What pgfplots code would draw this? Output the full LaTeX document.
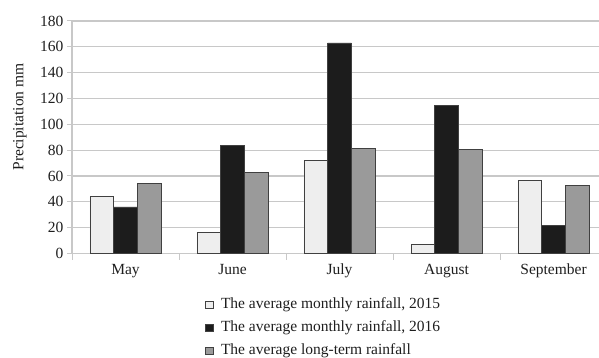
\documentclass[border=0pt]{standalone}
\usepackage{fontspec}
\setmainfont{Liberation Serif}
\usepackage{pgfplots}
\pgfplotsset{compat=1.18}
\definecolor{cA}{HTML}{EEEEEE}
\definecolor{cB}{HTML}{1C1C1C}
\definecolor{cC}{HTML}{9A9A9A}
\definecolor{edge}{HTML}{404040}
\definecolor{gridc}{HTML}{C8C8C8}
\definecolor{txt}{HTML}{1E1E1E}
\begin{document}
\begin{tikzpicture}[font=\fontsize{15.5bp}{18bp}\selectfont]
\path[use as bounding box] (0,0) rectangle (599bp,358bp);
\begin{axis}[
  at={(72bp,104.5bp)}, anchor=south west,
  scale only axis, width=527bp, height=232.5bp,
  ybar=0pt, bar width=23.7bp,
  xmin=-0.5, xmax=4.425, ymin=0, ymax=180,
  axis lines=left, axis line style={-, draw=gridc, line width=1.2bp},
  ytick={0,20,...,180},
  xtick={0,1,2,3,4},
  xticklabels={May,June,July,August,September},
  minor xtick={-0.5,0.5,1.5,2.5,3.5},
  tick align=outside,
  major tick length=5bp, minor tick length=6bp,
  tick style={draw=gridc, line width=1bp},
  major x tick style={draw=none},
  ymajorgrids, major grid style={draw=gridc, line width=1.2bp},
  /pgf/number format/assume math mode=true,
  ticklabel style={text=txt},
  xticklabel style={yshift=-2bp},
  ylabel={Precipitation mm},
  ylabel style={at={(axis description cs:-0.0987,0.587)}, anchor=center, text=txt},
  legend style={at={(axis description cs:0.2524,-0.175)}, anchor=north west,
    draw=none, fill=none, inner sep=0pt, row sep=2bp, text=txt,
    nodes={inner sep=2.5bp, text height=12bp, text depth=4bp}},
  legend cell align=left,
  legend image code/.code={\path[draw=none, fill=none] (0bp,0bp) -- (13bp,0bp);\draw[#1, line width=0.6bp] (0bp,-3.5bp) rectangle (8bp,3.5bp);},
]
\addplot[fill=cA, draw=edge, line width=0.8bp] coordinates {(0,44) (1,16.3) (2,72.3) (3,6.7) (4,56.5)};
\addplot[fill=cB, draw=edge, line width=0.8bp] coordinates {(0,36) (1,83.7) (2,163) (3,114.7) (4,22)};
\addplot[fill=cC, draw=edge, line width=0.8bp] coordinates {(0,54) (1,62.5) (2,81) (3,80.3) (4,52.5)};
\legend{{The average monthly rainfall, 2015}, {The average monthly rainfall, 2016}, {The average long-term rainfall}}
\end{axis}
\end{tikzpicture}
\end{document}
